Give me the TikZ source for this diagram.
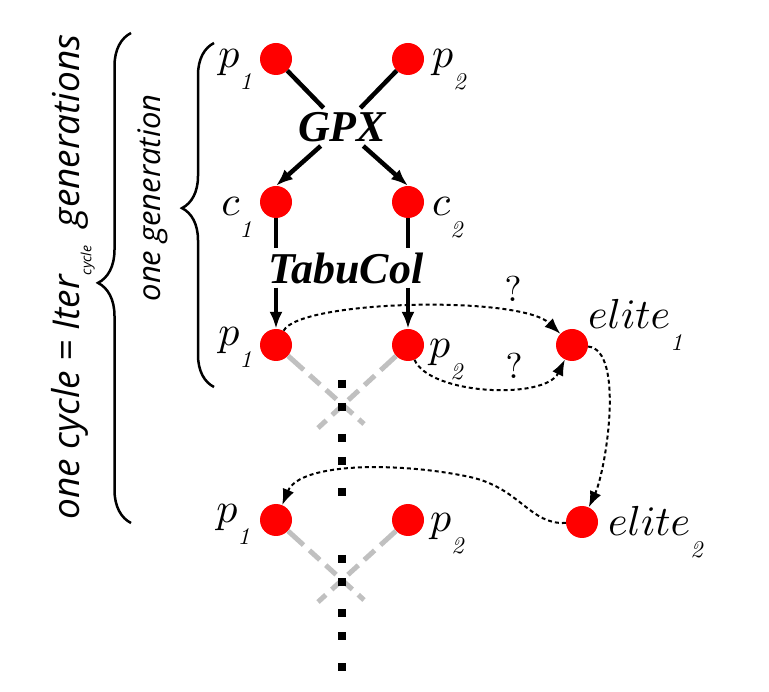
\RequirePackage{fix-cm}
\documentclass[tikz,border=0pt]{standalone}
\usepackage{fontspec}
\newfontfamily\opfont{Liberation Serif}
\newfontfamily\bracefont{Open Sans}
\DeclareFontShape{OML}{cmm}{m}{it}{<->cmmi10}{}
\DeclareFontShape{OT1}{cmr}{m}{it}{<->cmti10}{}
\DeclareFontShape{OT1}{cmr}{m}{n}{<->cmr10}{}
\usetikzlibrary{arrows.meta,positioning,calc,decorations.pathreplacing}
\definecolor{indred}{RGB}{255,0,0}
\definecolor{ashgray}{RGB}{192,192,192}
\newcommand\cmfont{\fontencoding{OT1}\fontfamily{cmr}}
\newcommand\idx[2]{$#1$\raisebox{-22pt}{\fontsize{24}{24}\cmfont\itshape #2}}
\tikzset{
  >={Latex[length=17pt,width=13pt]},
  ind/.style={circle,fill=indred,inner sep=0pt,minimum size=32pt},
  lbl/.style={inner sep=0pt,font=\fontsize{42}{48}\selectfont},
  op/.style={inner sep=4pt,font=\fontsize{44}{50}\selectfont\opfont\bfseries\itshape},
  flow/.style={line width=4.5pt},
  swap/.style={line width=5pt,draw=ashgray,
    dash pattern=on 21pt off 8pt on 14pt off 8pt on 14pt off 8pt on 14pt off 8pt},
  gen/.style={line width=8pt,dash pattern=on 8pt off 15pt on 8pt off 23pt},
  link/.style={-{Latex[length=16pt,width=12pt]},line width=2pt,dash pattern=on 4pt off 3pt},
  span/.style={decorate,decoration={brace,amplitude=#1},line width=2.5pt},
  qmark/.style={font=\fontsize{36}{36}\cmfont\selectfont,inner sep=0pt},
  side/.style={rotate=90,font=\fontsize{#1}{40}\selectfont\bracefont\itshape,inner sep=0pt},
  side/.default=31
}

\begin{document}
\begin{tikzpicture}[x=1pt,y=-1pt]
  \useasboundingbox (0,0) rectangle (769,692);
  % individuals
  \foreach \n/\x/\y in {pa1/276/59,pa2/408/59,ca1/276/202,ca2/408/202,pb1/276/345,pb2/408/345,e1/572/345,pc1/276/520,pc2/408/520,e2/582/522}
    \node[ind] (\n) at (\x,\y) {};
  \foreach \n/\m/\s/\dx/\dy/\a in {pa1/p/1/-24/9/base east,pa2/p/2/24/9/base west,ca1/c/1/-24/14/base east,ca2/c/2/24/14/base west,pb1/p/1/-24/1/base east,pb2/p/2/21/13/base west,pc1/p/1/-26/2/base east,pc2/p/2/22/12/base west,e1/elite/1/16/-16/base west,e2/elite/2/26/14/base west}
    \node[lbl,anchor=\a] (l\n) at ([shift={(\dx,\dy)}]\n.center) {\idx{\m}{\s}};
  \node[op] (gpx) at (342,127) {GPX};
  \node[op] (tabu) at (346,268) {TabuCol};
  \draw[flow] (pa1) -- (gpx);
  \draw[flow] (pa2) -- (gpx);
  \draw[flow,->] (gpx) -- (ca1.north);
  \draw[flow,->] (gpx) -- (ca2.north);
  \draw[flow] (ca1) -- (ca1 |- tabu.north);
  \draw[flow] (ca2) -- (ca2 |- tabu.north);
  \draw[flow,->] (pb1 |- tabu.south) -- (pb1);
  \draw[flow,->] (pb2 |- tabu.south) -- (pb2);
  % crossings towards the next generation
  \coordinate (xb1) at (364,424);
  \coordinate (xb2) at (318,428);
  \coordinate (xc1) at (364,600);
  \coordinate (xc2) at (318,602);
  \draw[swap] (pb1) -- (xb1);
  \draw[swap] (pb2) -- (xb2);
  \draw[swap] (pc1) -- (xc1);
  \draw[swap] (pc2) -- (xc2);
  \coordinate (ga) at (342,380);
  \coordinate (gb) at (342,497);
  \coordinate (gc) at (342,555);
  \coordinate (gd) at (342,672);
  \draw[gen] (ga) -- (gb);
  \draw[gen] (gc) -- (gd);
  % elites
  \draw[link] (pb1) .. controls (300,300) and (520,295) .. (e1);
  \draw[link] (pb2) .. controls (430,395) and (545,400) .. (e1);
  \draw[link] (e1) .. controls (625,350) and (606,470) .. (e2);
  \draw[link] (e2) .. controls (530,525) and (520,488) .. (470,477) .. controls (400,462) and (300,462) .. (pc1);
  \node[qmark] (q1) at (513,289) {?};
  \node[qmark] (q2) at (514,366) {?};
  % braces
  \coordinate (ib) at (214,387);
  \coordinate (it) at (214,43);
  \coordinate (ob) at (131,523);
  \coordinate (ot) at (131,33);
  \draw[span=32pt,decoration={aspect=0.52}] (ib) -- (it);
  \draw[span=33pt,decoration={aspect=0.49}] (ob) -- (ot);
  \node[side] (onegen) at (153,198) {one generation};
  \node[side=37] (onecyc) at (73,277) {one cycle = Iter\raisebox{-12pt}{\fontsize{14}{14}\selectfont cycle}\enskip generations};
\end{tikzpicture}
\end{document}
